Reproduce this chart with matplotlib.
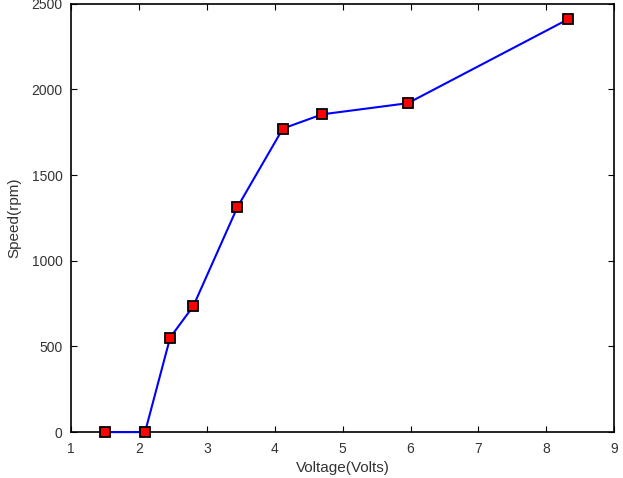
import matplotlib
matplotlib.use('Agg')
import matplotlib.pyplot as plt

voltage = [1.50, 2.09, 2.46, 2.80, 3.45, 4.12, 4.70, 5.96, 8.32]
speed = [0, 0, 552, 735, 1313, 1772, 1855, 1920, 2410]

plt.rcParams['font.family'] = ['Liberation Sans', 'DejaVu Sans']

fig = plt.figure(figsize=(6.23, 4.78), dpi=100)
ax = fig.add_axes([0.114, 0.096, 0.872, 0.896])

ax.plot(voltage, speed, color='blue', linewidth=1.5, marker='s', markersize=7.5,
        markerfacecolor='red', markeredgecolor='black', markeredgewidth=1.3,
        clip_on=False, zorder=5)

ax.set_xlim(1, 9)
ax.set_ylim(0, 2500)
ax.set_xticks(range(1, 10))
ax.set_yticks(range(0, 2501, 500))
ax.tick_params(direction='in', top=True, right=True, length=4, width=0.8,
               labelsize=10, labelcolor='#333333')
ax.tick_params(axis='x', pad=7)
ax.tick_params(axis='y', pad=6)
for s in ax.spines.values():
    s.set_linewidth(1.2)

ax.set_xlabel('Voltage(Volts)', fontsize=11, color='#333333', labelpad=4)
ax.set_ylabel('Speed(rpm)', fontsize=11, color='#333333', labelpad=7)

fig.savefig('out.png', dpi=100)
